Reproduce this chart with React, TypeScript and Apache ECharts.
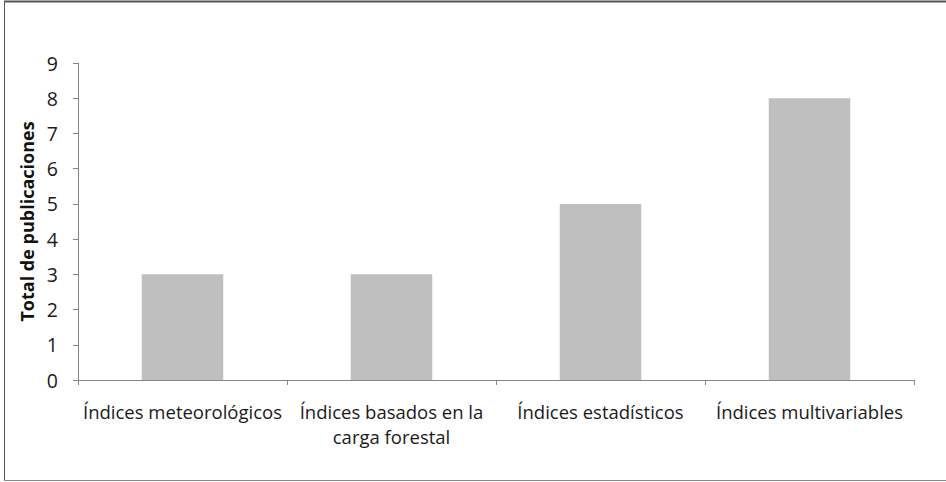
import React, { useEffect, useRef } from "react";
import * as echarts from "echarts";

const categories = [
  "Índices meteorológicos",
  "Índices basados en la\ncarga forestal",
  "Índices estadísticos",
  "Índices multivariables",
];
const values = [3, 3, 5, 8];
const yTicks = [0, 1, 2, 3, 4, 5, 6, 7, 8, 9];
const yAxisName = "Total de publicaciones";

const FONT = "'Open Sans', 'Noto Sans', sans-serif";

export default function App() {
  const ref = useRef<HTMLDivElement>(null);
  useEffect(() => {
    if (!ref.current) return;
    const chart = echarts.init(ref.current, undefined, { renderer: "svg" });
    chart.setOption({
      animation: false,
      backgroundColor: "#ffffff",
      graphic: [
        { type: "line", shape: { x1: 4, y1: 1.5, x2: 946, y2: 1.5 }, style: { stroke: "#555", lineWidth: 2 } },
        { type: "line", shape: { x1: 4.5, y1: 1, x2: 4.5, y2: 481 }, style: { stroke: "#555", lineWidth: 1 } },
        { type: "line", shape: { x1: 4, y1: 480.5, x2: 946, y2: 480.5 }, style: { stroke: "#888", lineWidth: 1 } },
      ],
      grid: { left: 78, right: 32, top: 63, bottom: 102 },
      xAxis: {
        type: "category",
        data: categories,
        axisLine: { show: true, lineStyle: { color: "#868686", width: 1 } },
        axisTick: { show: true, alignWithLabel: false, length: 5, lineStyle: { color: "#868686" } },
        axisLabel: {
          color: "#1a1a1a",
          fontFamily: FONT,
          fontSize: 18.5,
          lineHeight: 25,
          margin: 19,
          interval: 0,
        },
      },
      yAxis: {
        type: "value",
        min: yTicks[0],
        max: yTicks[yTicks.length - 1],
        interval: 1,
        name: yAxisName,
        nameLocation: "middle",
        nameGap: 40,
        nameTextStyle: { color: "#111", fontFamily: FONT, fontSize: 18, fontWeight: "bold" },
        axisLine: { show: true, lineStyle: { color: "#868686", width: 1 } },
        axisTick: { show: true, length: 5, lineStyle: { color: "#868686" } },
        splitLine: { show: false },
        axisLabel: { color: "#1a1a1a", fontFamily: FONT, fontSize: 19.5, margin: 20 },
      },
      series: [
        {
          type: "bar",
          data: values,
          barWidth: "39%",
          itemStyle: { color: "#BFBFBF" },
        },
      ],
    });
    return () => chart.dispose();
  }, []);
  return (
    <div
      ref={ref}
      style={{ position: "fixed", left: 0, top: 0, width: 946, height: 482 }}
    />
  );
}
